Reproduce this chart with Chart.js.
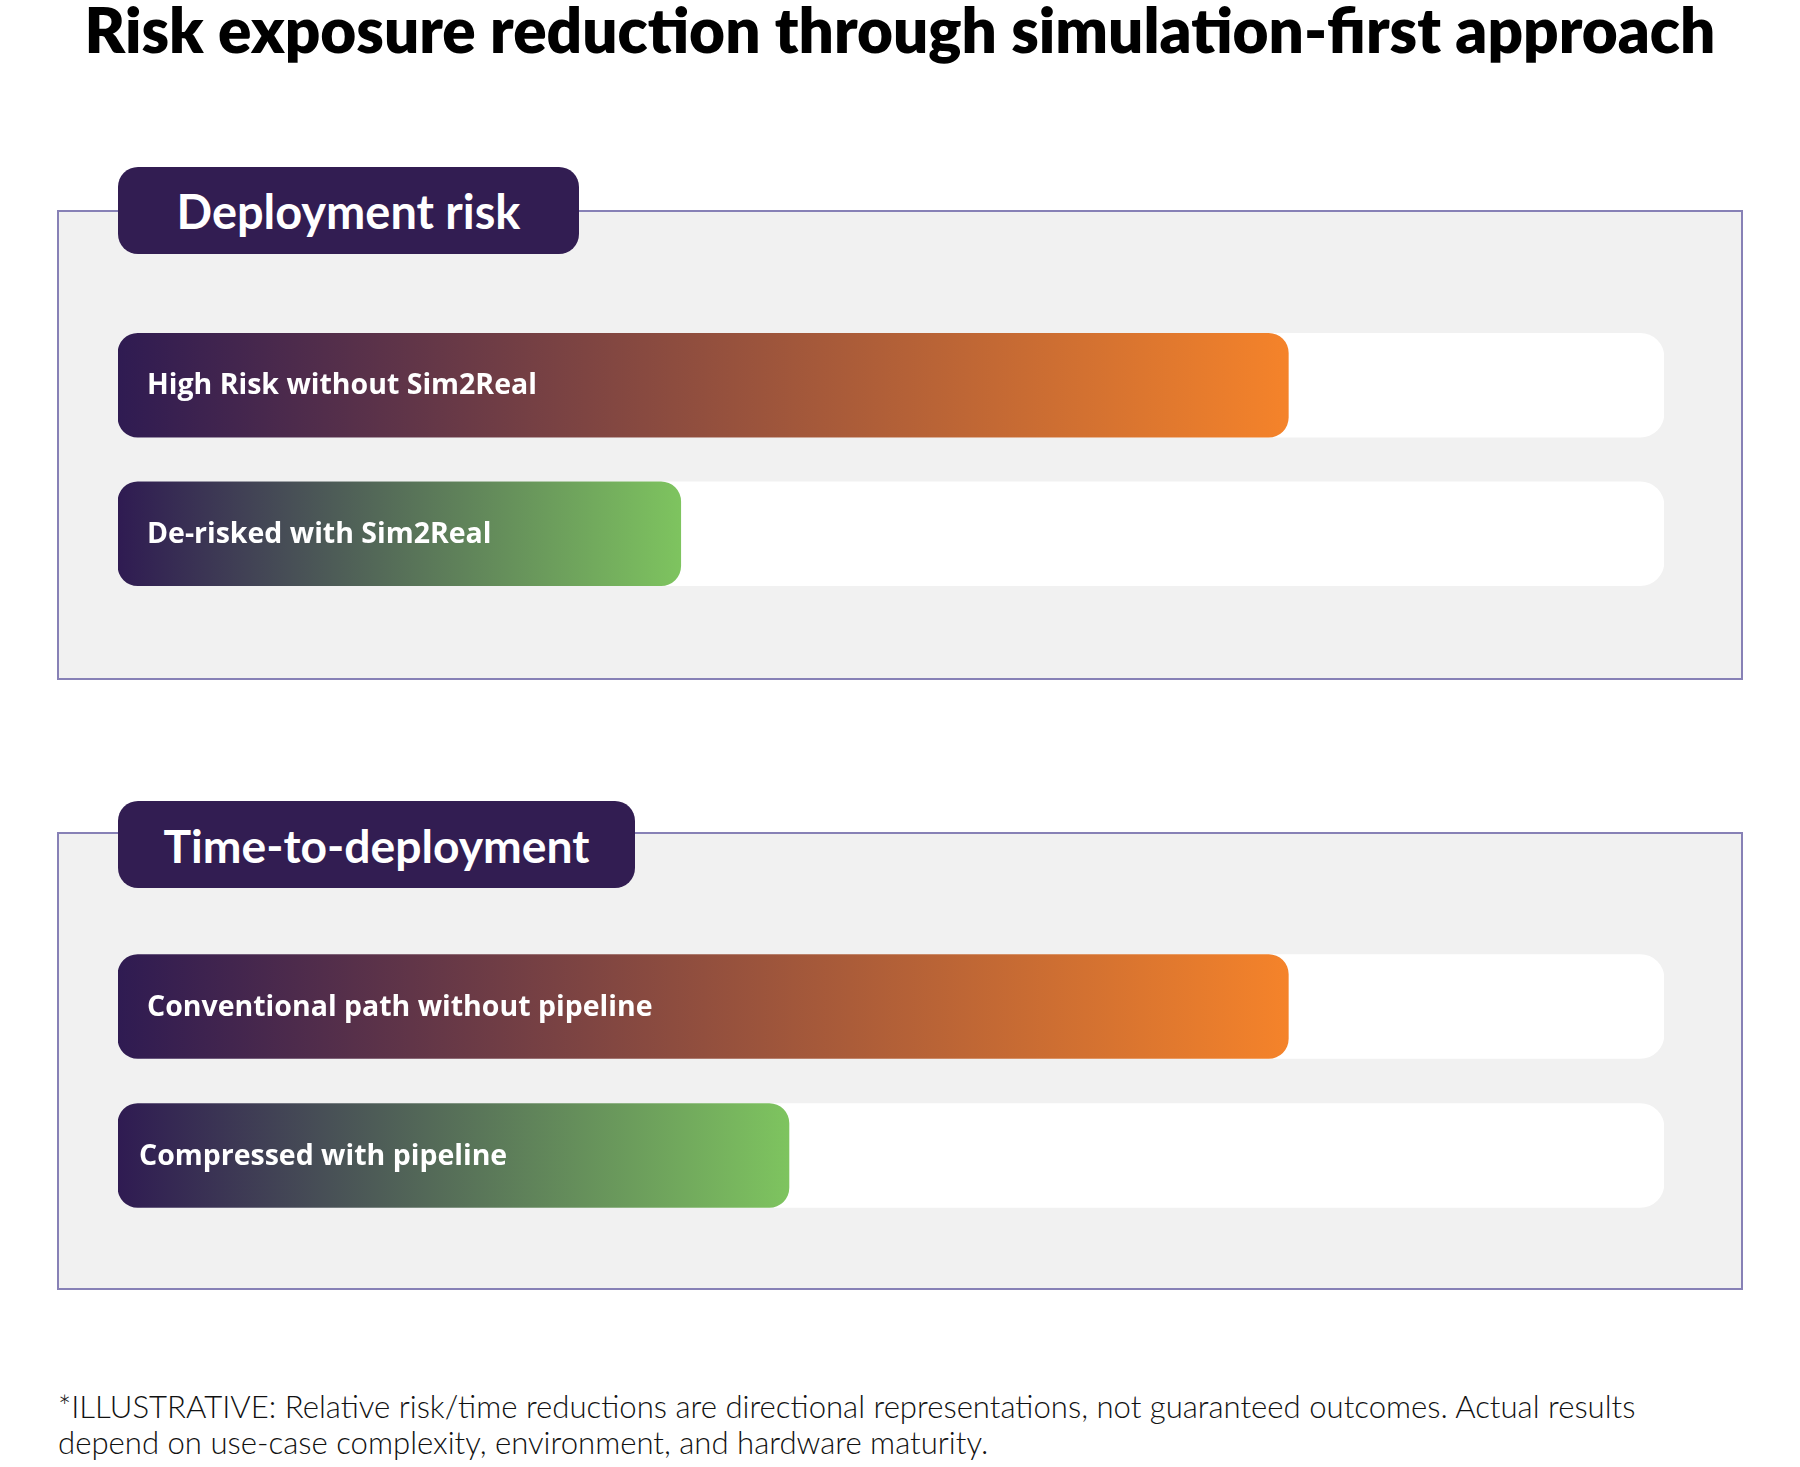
<!DOCTYPE html>
<html>
<head>
<meta charset="utf-8">
<script src="https://cdn.jsdelivr.net/npm/chart.js@4.4.0/dist/chart.umd.min.js"></script>
<style>
html,body{margin:0;padding:0;background:#fff;}
body{width:1800px;height:1467px;position:relative;overflow:hidden;font-family:Lato,"Open Sans",sans-serif;}
#title{position:absolute;left:0;width:1800px;top:0px;text-align:center;font-weight:800;font-size:52px;line-height:60px;color:#000;white-space:nowrap;}
#title span{display:inline-block;}
.panel{position:absolute;left:57px;width:1686px;background:#f1f1f1;border:2px solid #8781b6;box-sizing:border-box;}
.pill{position:absolute;left:118px;height:87px;background:#321d52;border-radius:20px;color:#fff;font-weight:700;font-size:40px;display:flex;align-items:center;justify-content:center;white-space:nowrap;}
.pill span{display:inline-block;}
.chartbox{position:absolute;left:118px;width:1546px;}
#note{position:absolute;left:58px;top:1388px;font-weight:300;font-size:29px;line-height:36px;color:#111;white-space:nowrap;}
#note span{display:inline-block;}
</style>
</head>
<body>
<div id="title"><span id="titleText">Risk exposure reduction through simulation-first approach</span></div>

<div class="panel" style="top:210px;height:470px;"></div>
<div class="pill" style="top:167px;width:461px;"><span id="pill1">Deployment risk</span></div>
<div class="chartbox" style="top:311px;height:297px;"><canvas id="c1"></canvas></div>

<div class="panel" style="top:832px;height:458px;"></div>
<div class="pill" style="top:801px;width:517px;"><span id="pill2">Time-to-deployment</span></div>
<div class="chartbox" style="top:932px;height:298px;"><canvas id="c2"></canvas></div>

<div id="note"><span id="noteLine1">*ILLUSTRATIVE: Relative risk/time reductions are directional representations, not guaranteed outcomes. Actual results</span><br><span>depend on use-case complexity, environment, and hardware maturity.</span></div>

<script>
// ---- data ----
const riskLabels = ['High Risk without Sim2Real', 'De-risked with Sim2Real'];
const riskValues = [75.7, 36.4];
const timeLabels = ['Conventional path without pipeline', 'Compressed with pipeline'];
const timeValues = [75.7, 43.4];
const trackMax = 100;

// ---- styling helpers ----
const START_COLOR = '#2f1b52';
const END_COLORS = ['#f5832a', '#7ec45f'];
const LABEL_FAMILY = '"Open Sans", Lato, sans-serif';
const LABEL_WEIGHT = 700;

function fitWidth(el, target) {
  const cs = parseFloat(getComputedStyle(el).fontSize);
  const w = el.getBoundingClientRect().width;
  if (w > 0) el.style.fontSize = (cs * target / w) + 'px';
  return parseFloat(el.style.fontSize);
}

// label font size chosen so "High Risk without Sim2Real" spans ~390px as in the reference
function labelFontSize() {
  const c = document.createElement('canvas').getContext('2d');
  c.font = LABEL_WEIGHT + ' 100px ' + LABEL_FAMILY;
  const w = c.measureText(riskLabels[0]).width;
  return 100 * 390 / w;
}
let LABEL_SIZE = 27;

// draws the category labels inside the bars, positioned by the chart's own scales
const barLabelPlugin = {
  id: 'barLabels',
  afterDatasetsDraw(chart, args, opts) {
    const ctx = chart.ctx;
    const xs = chart.scales.x, ys = chart.scales.y;
    const pads = opts.pads || [];
    ctx.save();
    ctx.fillStyle = '#ffffff';
    ctx.font = LABEL_WEIGHT + ' ' + LABEL_SIZE.toFixed(2) + 'px ' + LABEL_FAMILY;
    ctx.textAlign = 'left';
    ctx.textBaseline = 'middle';
    chart.data.labels.forEach(function (lab, i) {
      ctx.fillText(lab, xs.getPixelForValue(0) + (pads[i] !== undefined ? pads[i] : 29), ys.getPixelForValue(i) + 1);
    });
    ctx.restore();
  }
};

function makeChart(id, labels, values, pads) {
  const ctx = document.getElementById(id);
  return new Chart(ctx, {
    type: 'bar',
    plugins: [barLabelPlugin],
    data: {
      labels: labels,
      datasets: [
        {
          label: 'value',
          data: values,
          order: 0,
          grouped: false,
          barThickness: 104,
          borderRadius: 20,
          borderSkipped: false,
          backgroundColor: function (c) {
            const chart = c.chart;
            if (!chart.chartArea || c.raw === undefined) return END_COLORS[0];
            const xs = chart.scales.x;
            const x0 = xs.getPixelForValue(0);
            const x1 = xs.getPixelForValue(c.raw);
            const g = chart.ctx.createLinearGradient(x0, 0, x1, 0);
            g.addColorStop(0, START_COLOR);
            g.addColorStop(1, END_COLORS[c.dataIndex % 2]);
            return g;
          }
        },
        {
          label: 'track',
          data: labels.map(() => trackMax),
          order: 1,
          grouped: false,
          barThickness: 104,
          borderRadius: 24,
          borderSkipped: false,
          backgroundColor: '#ffffff'
        }
      ]
    },
    options: {
      indexAxis: 'y',
      responsive: true,
      maintainAspectRatio: false,
      animation: false,
      layout: { padding: 0 },
      plugins: {
        legend: { display: false },
        tooltip: { enabled: false },
        title: { display: false },
        barLabels: { pads: pads }
      },
      scales: {
        x: { display: false, min: 0, max: trackMax },
        y: { display: false }
      }
    }
  });
}

function layoutText() {
  const tS = fitWidth(document.getElementById('titleText'), 1631);
  const title = document.getElementById('title');
  title.style.fontSize = tS + 'px';
  title.style.top = (23 - 0.387 * tS) + 'px';
  fitWidth(document.getElementById('pill1'), 344);
  fitWidth(document.getElementById('pill2'), 426);
  const n1 = document.getElementById('noteLine1');
  const nS = fitWidth(n1, 1578);
  document.getElementById('note').style.fontSize = nS + 'px';
  n1.style.fontSize = '';
}

(document.fonts ? document.fonts.ready : Promise.resolve()).then(function () {
  layoutText();
  LABEL_SIZE = labelFontSize();
  makeChart('c1', riskLabels, riskValues, [29, 29]);
  makeChart('c2', timeLabels, timeValues, [29, 21]);
});
</script>
</body>
</html>
